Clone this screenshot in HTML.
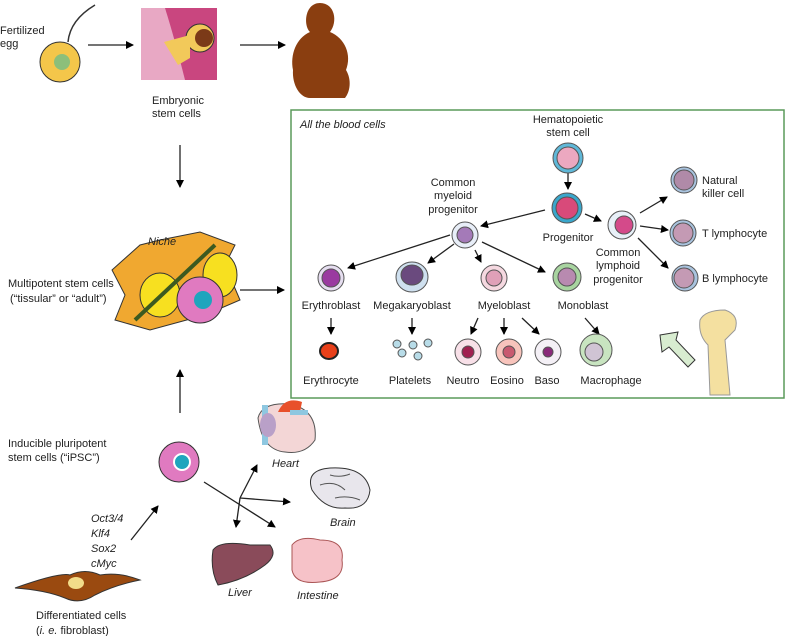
<!DOCTYPE html>
<html><head><meta charset="utf-8"><style>
html,body{margin:0;padding:0;background:#fff}
svg{display:block}
text{font-family:"Liberation Sans",sans-serif;font-size:11px;fill:#222}
.i{font-style:italic}
</style></head><body>
<svg width="786" height="636" viewBox="0 0 786 636" xmlns="http://www.w3.org/2000/svg">
<defs>
<marker id="a" markerWidth="8" markerHeight="8" refX="7" refY="4" orient="auto" markerUnits="userSpaceOnUse"><path d="M0,0 L8,4 L0,8 z" fill="#000"/></marker>
</defs>
<g stroke="#222" stroke-width="1.3" fill="none" marker-end="url(#a)">
<line x1="88" y1="45" x2="133" y2="45"/>
<line x1="240" y1="45" x2="285" y2="45"/>
<line x1="180" y1="145" x2="180" y2="187"/>
<line x1="240" y1="290" x2="284" y2="290"/>
<line x1="180" y1="413" x2="180" y2="370"/>
<line x1="131" y1="540" x2="158" y2="506"/>
<line x1="204" y1="482" x2="275" y2="527"/>
<line x1="240" y1="498" x2="257" y2="465"/>
<line x1="240" y1="498" x2="290" y2="502"/>
<line x1="240" y1="498" x2="236" y2="527"/>
<line x1="568" y1="173" x2="568" y2="189"/>
<line x1="545" y1="210" x2="481" y2="226"/>
<line x1="585" y1="214" x2="601" y2="221"/>
<line x1="640" y1="213" x2="667" y2="197"/>
<line x1="640" y1="226" x2="668" y2="230"/>
<line x1="638" y1="238" x2="668" y2="268"/>
<line x1="450" y1="235" x2="348" y2="268"/>
<line x1="454" y1="244" x2="428" y2="263"/>
<line x1="475" y1="250" x2="481" y2="262"/>
<line x1="482" y1="242" x2="545" y2="272"/>
<line x1="331" y1="318" x2="331" y2="334"/>
<line x1="412" y1="318" x2="412" y2="334"/>
<line x1="478" y1="318" x2="471" y2="334"/>
<line x1="504" y1="318" x2="504" y2="334"/>
<line x1="522" y1="318" x2="539" y2="334"/>
<line x1="585" y1="318" x2="599" y2="334"/>
</g>
<rect x="291" y="110" width="493" height="288" fill="none" stroke="#5a9a5a" stroke-width="1.5"/>
<path d="M68,42 Q70,20 95,5" stroke="#333" stroke-width="1.5" fill="none"/>
<circle cx="60" cy="62" r="20" fill="#f4c64a" stroke="#333"/>
<circle cx="62" cy="62" r="8" fill="#8cbf7a"/>
<rect x="141" y="8" width="76" height="72" fill="#c9467f"/>
<path d="M141,8 L165,8 Q175,40 185,80 L141,80z" fill="#e8a8c4"/>
<circle cx="200" cy="38" r="14" fill="#f2c95a" stroke="#333"/>
<circle cx="204" cy="38" r="9" fill="#7b3a18"/>
<path d="M164,42 L190,35 L190,58 L178,65 Z" fill="#f2c95a"/>
<path d="M320,3 C305,3 303,25 310,32 C296,38 290,55 293,70 C292,85 300,98 310,98 L345,98 C350,92 352,80 346,70 C352,55 345,38 330,32 C338,22 335,3 320,3Z" fill="#8a3e10"/>
<path d="M112,270 L140,245 L160,240 L200,232 L235,245 L225,265 L240,300 L205,315 L150,330 L115,320 L125,295Z" fill="#f0a830" stroke="#333"/>
<ellipse cx="160" cy="295" rx="20" ry="22" fill="#f7e020" stroke="#333"/>
<ellipse cx="220" cy="275" rx="17" ry="22" fill="#f7e020" stroke="#333"/>
<path d="M135,320 L215,245" stroke="#3c5a20" stroke-width="4"/>
<circle cx="200" cy="300" r="23" fill="#e07ac0" stroke="#333"/>
<circle cx="203" cy="300" r="9" fill="#1ea5bd"/>
<circle cx="179" cy="462" r="20" fill="#e07ac0" stroke="#333"/>
<circle cx="182" cy="462" r="8" fill="#1ea5bd" stroke="#fff" stroke-width="2"/>
<path d="M15,588 Q60,572 70,575 Q85,568 100,575 Q120,572 140,580 Q115,585 95,595 Q80,605 65,598 Q45,590 15,588Z" fill="#9a4a10" stroke="#333"/>
<ellipse cx="76" cy="583" rx="8" ry="6" fill="#f2dc8a"/>
<path d="M258,418 Q262,402 290,404 Q318,410 315,440 Q305,455 285,452 Q262,450 258,418Z" fill="#f3d6d6" stroke="#555"/>
<path d="M278,412 Q285,396 302,402 L300,412Z" fill="#e8502a"/>
<rect x="262" y="405" width="6" height="40" fill="#8ec7e0"/>
<rect x="290" y="410" width="18" height="5" fill="#8ec7e0"/>
<ellipse cx="268" cy="425" rx="8" ry="12" fill="#b9a0c8"/>
<path d="M312,490 Q305,470 330,468 Q365,466 370,490 Q368,510 345,508 Q325,510 312,490Z" fill="#e8e6ec" stroke="#333"/>
<path d="M320,485 Q335,480 345,490 M330,475 Q340,478 350,474 M335,498 Q348,495 360,500" stroke="#555" fill="none"/>
<path d="M213,550 Q220,540 250,545 L270,545 Q278,555 265,565 Q245,580 218,585 Q210,570 213,550Z" fill="#8a4b5a" stroke="#333"/>
<path d="M292,545 Q300,535 320,540 Q345,540 342,560 Q345,580 320,582 Q295,585 292,570Z" fill="#f6c2c8" stroke="#a55"/>
<g stroke="#555" stroke-width="1">
<circle cx="568" cy="158" r="15" fill="#5fb8d8"/><circle cx="568" cy="158" r="11" fill="#eca8c0"/>
<circle cx="567" cy="208" r="15" fill="#3aa7cc"/><circle cx="567" cy="208" r="11" fill="#d84a7a"/>
<circle cx="465" cy="235" r="13" fill="#e8eef8"/><circle cx="465" cy="235" r="8" fill="#a47ab8"/>
<circle cx="622" cy="225" r="14" fill="#e8f0f8"/><circle cx="624" cy="225" r="9" fill="#d44a8a"/>
<circle cx="684" cy="180" r="13" fill="#a9c3de"/><circle cx="684" cy="180" r="10" fill="#b08aa8"/>
<circle cx="683" cy="233" r="13" fill="#a9c3de"/><circle cx="683" cy="233" r="10" fill="#c49ab4"/>
<circle cx="685" cy="278" r="13" fill="#a9c3de"/><circle cx="684" cy="278" r="10" fill="#c49ab4"/>
<circle cx="331" cy="278" r="13" fill="#e6def0"/><circle cx="331" cy="278" r="9" fill="#9a3aa0"/>
<ellipse cx="412" cy="277" rx="16" ry="15" fill="#cfe0ef"/><ellipse cx="412" cy="275" rx="11" ry="10" fill="#6a4a7e"/>
<circle cx="494" cy="278" r="13" fill="#f5d8e0"/><circle cx="494" cy="278" r="8" fill="#e0a0b8"/>
<circle cx="567" cy="277" r="14" fill="#a8d4a0"/><circle cx="567" cy="277" r="9" fill="#b88ab0"/>
<ellipse cx="329" cy="351" rx="9" ry="8" fill="#e8401a" stroke="#222" stroke-width="2"/>
<circle cx="468" cy="352" r="13" fill="#f8e0e8"/><circle cx="468" cy="352" r="6" fill="#a02050"/>
<circle cx="509" cy="352" r="13" fill="#f8c4bc"/><circle cx="509" cy="352" r="6" fill="#c85a70"/>
<circle cx="548" cy="352" r="13" fill="#f4f0f6"/><circle cx="548" cy="352" r="5" fill="#8a2a7a"/>
<circle cx="596" cy="350" r="16" fill="#c8e4c0"/><circle cx="594" cy="352" r="9" fill="#d0c4d4"/>
<circle cx="397" cy="344" r="4" fill="#b8dce8"/><circle cx="413" cy="345" r="4" fill="#b8dce8"/><circle cx="428" cy="343" r="4" fill="#b8dce8"/><circle cx="402" cy="353" r="4" fill="#b8dce8"/><circle cx="418" cy="356" r="4" fill="#b8dce8"/>
</g>
<path d="M700,320 Q705,310 725,310 Q740,315 735,330 L725,340 L730,395 L710,395 L708,345 Q698,335 700,320Z" fill="#f4e0a0" stroke="#999"/>
<path d="M660,335 L678,332 L676,340 L695,360 L688,367 L669,347 L662,352Z" fill="#d8ecd0" stroke="#333"/>
<text x="0" y="34">Fertilized</text><text x="0" y="47">egg</text>
<text x="152" y="104">Embryonic</text><text x="152" y="117">stem cells</text>
<text x="148" y="245" class="i">Niche</text>
<text x="8" y="287">Multipotent stem cells</text><text x="10" y="302">(“tissular” or “adult”)</text>
<text x="8" y="447">Inducible pluripotent</text><text x="8" y="461">stem cells (“iPSC”)</text>
<text x="91" y="522" class="i">Oct3/4</text><text x="91" y="537" class="i">Klf4</text><text x="91" y="552" class="i">Sox2</text><text x="91" y="567" class="i">cMyc</text>
<text x="36" y="619">Differentiated cells</text><text x="36" y="634">(<tspan class="i">i. e.</tspan> fibroblast)</text>
<text x="272" y="467" class="i">Heart</text><text x="330" y="526" class="i">Brain</text>
<text x="228" y="596" class="i">Liver</text><text x="297" y="599" class="i">Intestine</text>
<text x="300" y="128" class="i">All the blood cells</text>
<g text-anchor="middle">
<text x="568" y="123">Hematopoietic</text><text x="568" y="136">stem cell</text>
<text x="453" y="186">Common</text><text x="453" y="199">myeloid</text><text x="453" y="213">progenitor</text>
<text x="568" y="241">Progenitor</text>
<text x="618" y="256">Common</text><text x="618" y="269">lymphoid</text><text x="618" y="283">progenitor</text>
<text x="331" y="309">Erythroblast</text><text x="412" y="309">Megakaryoblast</text><text x="504" y="309">Myeloblast</text><text x="583" y="309">Monoblast</text>
<text x="331" y="384">Erythrocyte</text><text x="410" y="384">Platelets</text><text x="463" y="384">Neutro</text><text x="507" y="384">Eosino</text><text x="547" y="384">Baso</text><text x="611" y="384">Macrophage</text>
</g>
<text x="702" y="184">Natural</text><text x="702" y="197">killer cell</text>
<text x="702" y="237">T lymphocyte</text><text x="702" y="282">B lymphocyte</text>
</svg>
</body></html>
